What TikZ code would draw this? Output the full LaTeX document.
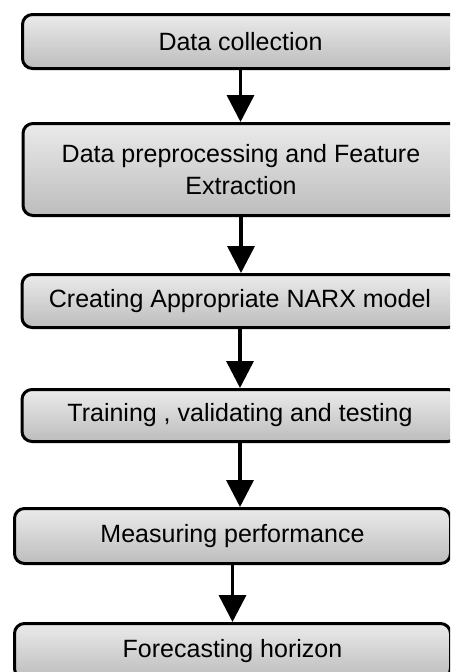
\documentclass[tikz,border=0pt]{standalone}
\usepackage{fontspec}
\setmainfont{Liberation Sans}
\usetikzlibrary{arrows.meta}

\tikzset{
  stepbox/.style={draw=black, line width=3pt, rounded corners=10pt,
    top color=black!8, bottom color=black!26, align=center,
    minimum width=436pt, font=\fontsize{25}{32}\selectfont},
  flow/.style={line width=3.5pt, -{Triangle[width=27pt,length=27pt]}}
}

\begin{document}
\begin{tikzpicture}[x=1pt, y=-1pt]
      \useasboundingbox (0,0) rectangle (450,672);
      \clip (0,0) rectangle (450,672);
      \node[stepbox, minimum height=54pt] (collect) at (240.5,41.5) {Data collection};
      \node[stepbox, minimum height=92pt] (prep) at (241,169.5) {Data preprocessing and Feature\\Extraction};
      \node[stepbox, minimum height=53pt] (narx) at (240,301) {Creating Appropriate NARX model};
      \node[stepbox, minimum height=52pt] (train) at (240,415.5) {Training , validating and testing};
      \node[stepbox, minimum height=55pt] (measure) at (232.5,536) {Measuring performance};
      \node[stepbox, minimum height=55pt] (horizon) at (232.5,651) {Forecasting horizon};
      \draw[flow] (collect.south) -- (collect.south |- prep.north);
      \draw[flow] (prep.south) -- (prep.south |- narx.north);
      \draw[flow] (narx.south) -- (narx.south |- train.north);
      \draw[flow] (train.south) -- (train.south |- measure.north);
      \draw[flow] (measure.south) -- (measure.south |- horizon.north);
    \end{tikzpicture}
\end{document}
